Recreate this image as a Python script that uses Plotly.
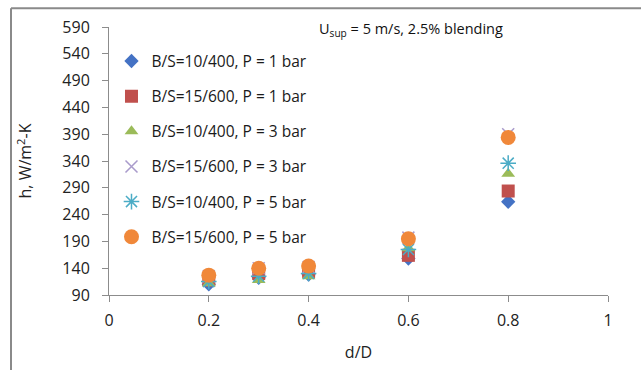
import plotly.graph_objects as go

d_over_D = [0.2, 0.3, 0.4, 0.6, 0.8]
series_names = [
    "B/S=10/400, P = 1 bar",
    "B/S=15/600, P = 1 bar",
    "B/S=10/400, P = 3 bar",
    "B/S=15/600, P = 3 bar",
    "B/S=10/400, P = 5 bar",
    "B/S=15/600, P = 5 bar",
]
h_10_400_1bar = [110, 122, 128, 158, 264]
h_15_600_1bar = [118, 130, 134, 164, 284]
h_10_400_3bar = [112, 118, 125, 177, 316]
h_15_600_3bar = [125, 140, 142, 197, 390]
h_10_400_5bar = [115, 125, 130, 175, 336]
h_15_600_5bar = [127, 140, 144, 195, 384]

all_values = [h_10_400_1bar, h_15_600_1bar, h_10_400_3bar,
              h_15_600_3bar, h_10_400_5bar, h_15_600_5bar]
symbols = ["diamond", "square", "triangle-up", "x-thin-open", "asterisk-open", "circle"]
colors = ["#4472C4", "#C0504D", "#9BBB59", "#A99BCB", "#4BACC6", "#F0883A"]
sizes = [11, 13, 12, 12, 13, 15]

fig = go.Figure()
for i, (name, vals) in enumerate(zip(series_names, all_values)):
    marker = dict(symbol=symbols[i], size=sizes[i], color=colors[i])
    if "open" in symbols[i]:
        marker["line"] = dict(color=colors[i], width=1.5)
    fig.add_trace(go.Scatter(x=d_over_D, y=vals, mode="markers", name=name,
                             marker=marker, legendgroup=f"g{i}"))

font_family = "Open Sans, Liberation Sans, sans-serif"
fig.update_layout(
    width=641, height=370,
    margin=dict(l=109, r=33, t=27, b=73),
    paper_bgcolor="white", plot_bgcolor="white",
    font=dict(family=font_family, size=15, color="#222222"),
    showlegend=True,
    legend=dict(x=0.005, y=0.935, xanchor="left", yanchor="top",
                bgcolor="rgba(0,0,0,0)", tracegroupgap=12,
                font=dict(size=15.5, color="#1a1a1a"), itemwidth=30),
    xaxis=dict(range=[0, 1], tickvals=[0, 0.2, 0.4, 0.6, 0.8, 1],
               ticktext=["0", "0.2", "0.4", "0.6", "0.8", "1"],
               showgrid=False, zeroline=False, showline=True,
               linecolor="#8c8c8c", linewidth=1, ticks="outside",
               ticklen=6, tickcolor="#8c8c8c", ticklabelstandoff=5,
               tickfont=dict(size=16, color="#222222"),
               title=dict(text="d/D", standoff=16, font=dict(size=16))),
    yaxis=dict(range=[90, 590], tickvals=list(range(90, 591, 50)),
               showgrid=False, zeroline=False, showline=True,
               linecolor="#8c8c8c", linewidth=1, ticks="outside",
               ticklen=6, tickcolor="#8c8c8c", ticklabelstandoff=9,
               tickfont=dict(size=16, color="#222222"),
               title=dict(text="h, W/m<sup>2</sup>-K", standoff=26, font=dict(size=16))),
    annotations=[dict(text="U<sub>sup</sub> = 5 m/s, 2.5% blending",
                      x=0.605, y=0.99, xref="paper", yref="paper",
                      xanchor="center", yanchor="middle", showarrow=False,
                      font=dict(size=14.5, color="#111111"))],
    shapes=[
        dict(type="line", xref="paper", yref="paper",
             x0=-0.1964, x1=-0.1964, y0=1.0704, y1=-0.4,
             line=dict(color="#8a8a8a", width=2)),
        dict(type="line", xref="paper", yref="paper",
             x0=-0.1964, x1=1.2, y0=1.0704, y1=1.0704,
             line=dict(color="#8a8a8a", width=2)),
    ],
)

fig.write_html("out.html")
